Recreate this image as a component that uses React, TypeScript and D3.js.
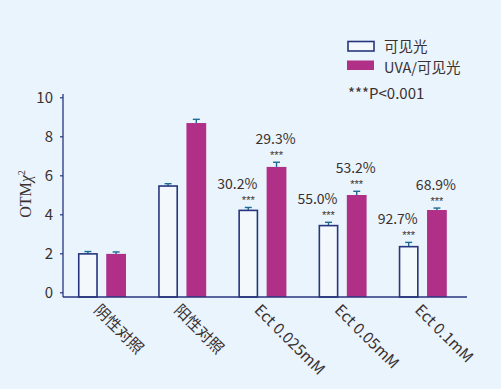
import React, { useEffect, useRef } from 'react'
import * as d3 from 'd3'

const categories = ['阴性对照', '阳性对照', 'Ect 0.025mM', 'Ect 0.05mM', 'Ect 0.1mM']
const seriesNames = ['可见光', 'UVA/可见光']
const visibleValues = [1.97, 5.45, 4.2, 3.42, 2.34]
const visibleErrors = [0.12, 0.12, 0.15, 0.17, 0.22]
const uvaValues = [1.97, 8.68, 6.43, 4.99, 4.22]
const uvaErrors = [0.1, 0.19, 0.24, 0.19, 0.1]
const visibleLabels = ['', '', '30.2%', '55.0%', '92.7%']
const uvaLabels = ['', '', '29.3%', '53.2%', '68.9%']
const yTicks = [0, 2, 4, 6, 8, 10]

const W = 501
const H = 389
const FONT = '"Noto Sans CJK SC", "Noto Sans", sans-serif'
const BG = '#e9f4fc'
const NAVY = '#27357e'
const MAGENTA = '#b03088'
const ERR = '#1d6a94'
const TXT = '#3a3030'

export default function App() {
  const axisRef = useRef<SVGGElement>(null)

  const axisX = 63
  const baseY = 297
  const x = d3.scaleBand<string>().domain(categories).range([62, 463])
  const sub = d3.scaleBand<string>().domain(['v', 'u']).range([16, 64]).paddingInner(0.3)
  const y = d3.scaleLinear().domain([0, 10]).range([292.3, 97.3])

  useEffect(() => {
    const g = d3.select(axisRef.current)
    g.selectAll('*').remove()
    g.attr('transform', `translate(${axisX},0)`)
      .call(d3.axisLeft(y).tickValues(yTicks).tickSize(3).tickPadding(7).tickFormat(d3.format('d')))
    g.select('.domain').remove()
    g.selectAll('.tick line').attr('stroke', NAVY).attr('stroke-width', 1.2)
    g.selectAll('.tick text')
      .attr('fill', TXT)
      .style('font-family', FONT)
      .style('font-size', '15px')
  }, [])

  const series = [
    { key: 'v', values: visibleValues, errors: visibleErrors, labels: visibleLabels, labelShift: -11 },
    { key: 'u', values: uvaValues, errors: uvaErrors, labels: uvaLabels, labelShift: -1 },
  ]

  return (
    <svg width={W} height={H} style={{ position: 'absolute', left: 0, top: 0 }} fontFamily={FONT}>
      <rect width={W} height={H} fill={BG} />

      {/* y axis label */}
      <text
        transform={`translate(31,194) rotate(-90)`}
        textAnchor="middle"
        fontFamily='"Liberation Serif", "DejaVu Serif", serif'
        fontSize={16}
        fill={TXT}
      >
        OTM<tspan fontStyle="italic">χ</tspan>
        <tspan fontSize={10} dy={-6}>2</tspan>
      </text>

      <g ref={axisRef} />

      {/* bars */}
      {series.map((s) =>
        categories.map((c, i) => {
          const bx = (x(c) as number) + (sub(s.key) as number)
          const bw = sub.bandwidth()
          const top = y(s.values[i])
          const cap = y(s.values[i] + s.errors[i])
          const cx = bx + bw / 2
          return (
            <g key={s.key + c}>
              <line x1={cx} x2={cx} y1={top} y2={cap} stroke={ERR} strokeWidth={1.4} />
              <line x1={cx - 3.5} x2={cx + 3.5} y1={cap} y2={cap} stroke={ERR} strokeWidth={1.4} />
              {s.key === 'v' ? (
                <rect x={bx + 0.75} y={top} width={bw - 1.5} height={baseY - top} fill="#f3f8fd" stroke={NAVY} strokeWidth={1.6} />
              ) : (
                <rect x={bx} y={top} width={bw} height={baseY - top} fill={MAGENTA} />
              )}
              {s.labels[i] && (
                <>
                  <text x={cx} y={cap - 3} textAnchor="middle" fontSize={11} fontFamily='"Liberation Sans", sans-serif' fill={TXT}>***</text>
                  <text x={cx + s.labelShift} y={cap - 18} textAnchor="middle" fontSize={14} fill={TXT}>
                    {s.labels[i]}
                  </text>
                </>
              )}
            </g>
          )
        })
      )}

      {/* axis lines */}
      <line x1={axisX} x2={axisX} y1={94} y2={baseY} stroke={NAVY} strokeWidth={1.3} />
      <line x1={axisX} x2={467} y1={baseY} y2={baseY} stroke={NAVY} strokeWidth={1.3} />

      {/* category labels */}
      {categories.map((c) => (
        <text
          key={c}
          transform={`translate(${(x(c) as number) + x.bandwidth() / 2 - 9},311) rotate(45)`}
          fontSize={15.5}
          fill={TXT}
        >
          {c}
        </text>
      ))}

      {/* legend */}
      <rect x={348} y={41.5} width={26} height={9.5} fill="#f3f8fd" stroke={NAVY} strokeWidth={1.6} />
      <text x={384} y={51.5} fontSize={14.5} fill={TXT}>{seriesNames[0]}</text>
      <rect x={347} y={60.5} width={27} height={9.5} fill={MAGENTA} />
      <text x={384} y={72.5} fontSize={14.5} fill={TXT}>{seriesNames[1]}</text>
      <text x={348} y={99} fontSize={15} fill={TXT}>***P&lt;0.001</text>
    </svg>
  )
}
